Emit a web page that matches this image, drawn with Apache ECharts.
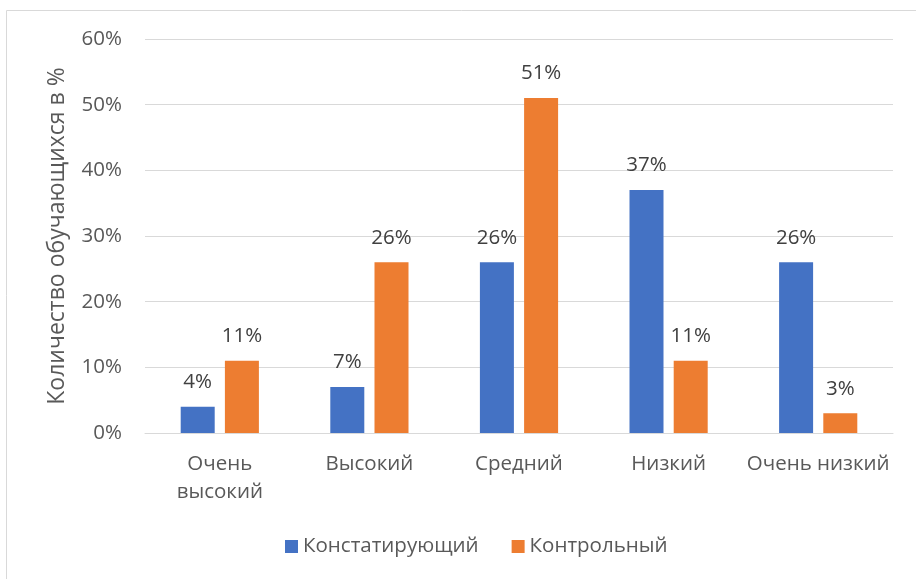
<!DOCTYPE html>
<html>
<head>
<meta charset="utf-8">
<script src="https://cdn.jsdelivr.net/npm/echarts@6/dist/echarts.min.js"></script>
<style>
  html, body { margin: 0; padding: 0; background: #fff; }
  #chart { width: 916px; height: 579px; }
</style>
</head>
<body>
<div id="chart"></div>
<script>
const categories = ["Очень\nвысокий", "Высокий", "Средний", "Низкий", "Очень низкий"];
const seriesNames = ["Констатирующий", "Контрольный"];
const stating = [4, 7, 26, 37, 26];
const control = [11, 26, 51, 11, 3];
const yTicks = { min: 0, max: 60, step: 10 };

const font = "'Open Sans', 'Liberation Sans', sans-serif";
const textColor = "#595959";

const chart = echarts.init(document.getElementById("chart"));

// value labels above the bars
const labelStyle = {
  show: true,
  position: "top",
  distance: 14,
  formatter: p => p.value + "%",
  color: "#404040",
  fontFamily: font,
  fontSize: 20.5
};

chart.setOption({
  animation: false,
  graphic: [{
    type: "rect",
    shape: { x: 6.5, y: 10.5, width: 940, height: 600 },
    style: { fill: "none", stroke: "#d9d9d9", lineWidth: 1 },
    silent: true
  }],
  grid: { left: 145, right: 23, top: 39, bottom: 146 },
  legend: {
    top: 531,
    left: 280,
    itemWidth: 13,
    itemHeight: 13,
    itemGap: 33,
    icon: "rect",
    textStyle: { color: textColor, fontFamily: font, fontSize: 20.5 },
    data: seriesNames
  },
  xAxis: {
    type: "category",
    data: categories,
    axisLine: { lineStyle: { color: "#d9d9d9", width: 1 } },
    axisTick: { show: false },
    axisLabel: {
      color: textColor,
      fontFamily: font,
      fontSize: 20.5,
      margin: 17,
      lineHeight: 28,
      interval: 0
    }
  },
  yAxis: {
    type: "value",
    min: yTicks.min,
    max: yTicks.max,
    interval: yTicks.step,
    name: "Количество обучающихся в %",
    nameLocation: "middle",
    nameGap: 76,
    nameRotate: 90,
    nameTextStyle: { color: textColor, fontFamily: font, fontSize: 23 },
    axisLine: { show: false },
    axisTick: { show: false },
    splitLine: { lineStyle: { color: "#d9d9d9", width: 1 } },
    axisLabel: {
      color: textColor,
      fontFamily: font,
      fontSize: 20.5,
      margin: 23,
      formatter: v => v + "%"
    }
  },
  series: [
    {
      name: seriesNames[0],
      type: "bar",
      data: stating,
      barWidth: 34,
      barGap: "30%",
      itemStyle: { color: "#4472c4" },
      label: labelStyle
    },
    {
      name: seriesNames[1],
      type: "bar",
      data: control,
      barWidth: 34,
      itemStyle: { color: "#ed7d31" },
      label: labelStyle
    }
  ]
});
</script>
</body>
</html>
